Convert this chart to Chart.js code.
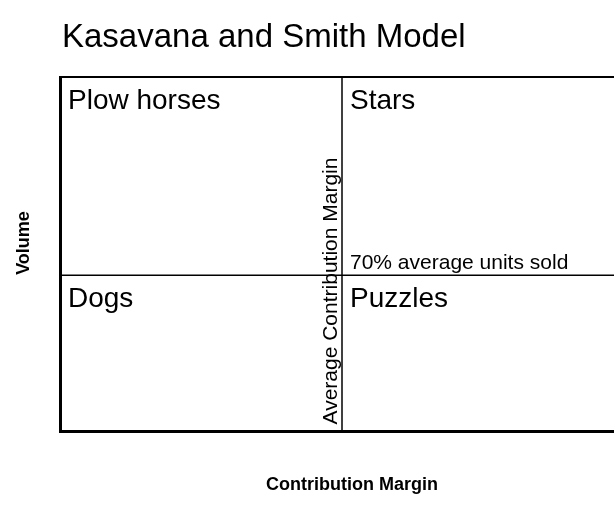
<!DOCTYPE html>
<html>
<head>
<meta charset="utf-8">
<script src="https://cdn.jsdelivr.net/npm/chart.js@4/dist/chart.umd.min.js"></script>
<style>
  html, body { margin: 0; padding: 0; background: #fff; overflow: hidden; }
  #wrap { width: 614px; height: 522px; overflow: hidden; }
  #wrap div { width: 640px; height: 522px; }
</style>
</head>
<body>
<div id="wrap"><div><canvas id="myChart"></canvas></div></div>
<script>
// axis ranges (contribution margin vs volume, both as % of scale)
var xRange = [0, 100];
var yRange = [0, 100];
// the two averages that split the matrix
var avgMargin = 50;
var avgVolume = 44;

var quadrantNames = ["Plow horses", "Stars", "Dogs", "Puzzles"];
var quadrantX = [0, 50, 0, 50];
var quadrantY = [100, 100, 44, 44];

var chartTitle = "Kasavana and Smith Model";
var xTitle = "Contribution Margin";
var yTitle = "Volume";
var marginLabel = "Average Contribution Margin";
var volumeLabel = "70% average units sold";

const FONT = "'Liberation Sans', Arial, sans-serif";

const labelsPlugin = {
  id: "quadrantLabels",
  afterDraw(chart) {
    const ctx = chart.ctx;
    const x = chart.scales.x;
    const y = chart.scales.y;
    const area = chart.chartArea;
    ctx.save();
    ctx.fillStyle = "#000";
    ctx.textBaseline = "alphabetic";

    // title
    ctx.font = "33px " + FONT;
    ctx.textAlign = "left";
    ctx.fillText(chartTitle, 62, 47);

    // quadrant names
    ctx.font = "28px " + FONT;
    for (let i = 0; i < quadrantNames.length; i++) {
      ctx.fillText(quadrantNames[i], x.getPixelForValue(quadrantX[i]) + 8, y.getPixelForValue(quadrantY[i]) + 32);
    }

    // average volume line label
    ctx.font = "21px " + FONT;
    ctx.fillText(volumeLabel, x.getPixelForValue(avgMargin) + 8, y.getPixelForValue(avgVolume) - 6);

    // average margin line label, rotated along the line
    ctx.save();
    ctx.translate(x.getPixelForValue(avgMargin) - 5, (y.getPixelForValue(yRange[0]) + y.getPixelForValue(yRange[1])) / 2 + 37);
    ctx.rotate(-Math.PI / 2);
    ctx.textAlign = "center";
    ctx.fillText(marginLabel, 0, 0);
    ctx.restore();

    // axis titles
    ctx.font = "bold 18px " + FONT;
    ctx.textAlign = "center";
    ctx.fillText(xTitle, (area.left + area.right) / 2 + 10, 490);
    ctx.save();
    ctx.translate(29, 243);
    ctx.rotate(-Math.PI / 2);
    ctx.fillText(yTitle, 0, 0);
    ctx.restore();
    ctx.restore();
  }
};

new Chart("myChart", {
  type: "scatter",
  data: {
    datasets: [{
      data: [{x: avgMargin, y: yRange[0]}, {x: avgMargin, y: yRange[1]}],
      showLine: true,
      borderColor: "#000",
      borderWidth: 1.5,
      pointRadius: 0
    }, {
      data: [{x: xRange[0], y: avgVolume}, {x: xRange[1], y: avgVolume}],
      showLine: true,
      borderColor: "#000",
      borderWidth: 1.5,
      pointRadius: 0
    }]
  },
  options: {
    responsive: true,
    maintainAspectRatio: false,
    animation: false,
    layout: { padding: { left: 60, top: 77, right: 16, bottom: 91 } },
    plugins: {
      legend: { display: false },
      tooltip: { enabled: false },
      title: { display: false }
    },
    scales: {
      x: {
        type: "linear", min: xRange[0], max: xRange[1],
        grid: { display: false, drawTicks: false },
        ticks: { display: false },
        border: { display: true, color: "#000", width: 3 },
        afterFit: (s) => { s.height = 0; }
      },
      x2: {
        type: "linear", axis: "x", position: "top", min: xRange[0], max: xRange[1],
        grid: { display: false, drawTicks: false },
        ticks: { display: false },
        border: { display: true, color: "#000", width: 2 },
        afterFit: (s) => { s.height = 0; }
      },
      y: {
        type: "linear", min: yRange[0], max: yRange[1],
        grid: { display: false, drawTicks: false },
        ticks: { display: false },
        border: { display: true, color: "#000", width: 3 },
        afterFit: (s) => { s.width = 0; }
      }
    }
  },
  plugins: [labelsPlugin]
});
</script>
</body>
</html>
